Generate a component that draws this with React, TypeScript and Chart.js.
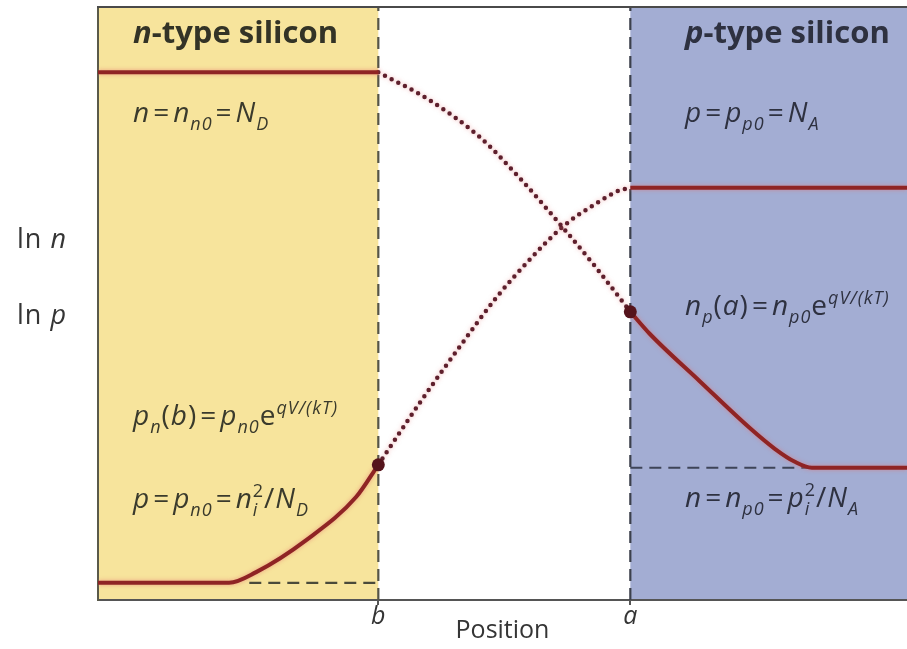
import React, { useEffect, useRef } from 'react';
import { Chart, registerables } from 'chart.js';

Chart.register(...registerables);

const FONT = '"Open Sans", "DejaVu Sans", sans-serif';

// Position axis runs 0–100; junction edges b and a
const tickPositions = [34.65, 65.8];
const tickLabels = ['b', 'a'];

// ln(concentration) axis range
const Y_MIN = 0;
const Y_MAX = 10;

// Electron concentration ln n
const electronNRegionX = [0, 34.65];
const electronNRegionY = [8.9, 8.9];
const electronDepletionX = [34.65, 40.97, 47.15, 52.1, 57.4, 61.6, 65.8];
const electronDepletionY = [8.9, 8.43, 7.81, 7.12, 6.29, 5.6, 4.86];
const electronPRegionX = [65.8, 68.19, 74.38, 80.57, 83.66, 86.14, 88.24, 100];
const electronPRegionY = [4.86, 4.49, 3.69, 2.9, 2.55, 2.33, 2.23, 2.23];

// Hole concentration ln p
const holeNRegionX = [0, 16.2, 19.55, 25.74, 31.93, 34.65];
const holeNRegionY = [0.29, 0.29, 0.47, 1.01, 1.74, 2.28];
const holeDepletionX = [34.65, 39.7, 44.7, 49.3, 53.3, 57.4, 61.6, 64.5, 65.8];
const holeDepletionY = [2.28, 3.31, 4.27, 5.11, 5.73, 6.29, 6.69, 6.91, 6.95];
const holePRegionX = [65.8, 100];
const holePRegionY = [6.95, 6.95];

// Minority-carrier equilibrium levels (dashed)
const holeFloorX = [18.7, 34.65];
const holeFloorY = [0.29, 0.29];
const electronFloorX = [65.8, 88.24];
const electronFloorY = [2.23, 2.23];

// Injected minority carriers at the junction edges
const edgeX = [34.65, 65.8];
const edgeY = [2.28, 4.86];

const zip = (xs: number[], ys: number[]) => xs.map((x, i) => ({ x, y: ys[i] }));

type Seg = { t: string; i?: boolean; b?: boolean; sub?: boolean; sup?: boolean; keep?: boolean; pad?: number };
type Label = { segs: Seg[]; x: number; y: number; size: number; color: string; spacing?: number };

const TEXT = '#353535';
const TEXT_Y = '#3a3a2c';
const TEXT_BLUE = '#2e3140';

const EQ: Seg = { t: '=', pad: 3 };

const labels: Label[] = [
  { segs: [{ t: 'n', i: true, b: true }, { t: '-type silicon', b: true }], x: 133, y: 43, size: 31, color: '#333326' },
  { segs: [{ t: 'p', i: true, b: true }, { t: '-type silicon', b: true }], x: 685, y: 43, size: 31, color: TEXT_BLUE },
  {
    segs: [{ t: 'n', i: true }, EQ, { t: 'n', i: true }, { t: 'n0', i: true, sub: true }, EQ, { t: 'N', i: true }, { t: 'D', i: true, sub: true }],
    x: 133, y: 122, size: 28, color: TEXT_Y, spacing: 1,
  },
  {
    segs: [{ t: 'p', i: true }, EQ, { t: 'p', i: true }, { t: 'p0', i: true, sub: true }, EQ, { t: 'N', i: true }, { t: 'A', i: true, sub: true }],
    x: 685, y: 122, size: 28, color: TEXT_BLUE, spacing: 1,
  },
  {
    segs: [{ t: 'p', i: true }, { t: 'n', i: true, sub: true }, { t: '(' }, { t: 'b', i: true }, { t: ')' }, EQ, { t: 'p', i: true }, { t: 'n0', i: true, sub: true }, { t: 'e' }, { t: 'qV/(kT)', i: true, sup: true }],
    x: 133, y: 425, size: 28, color: TEXT_Y, spacing: 1,
  },
  {
    segs: [{ t: 'p', i: true }, EQ, { t: 'p', i: true }, { t: 'n0', i: true, sub: true }, EQ, { t: 'n', i: true }, { t: 'i', i: true, sub: true, keep: true }, { t: '2', sup: true }, { t: '/' }, { t: 'N', i: true }, { t: 'D', i: true, sub: true }],
    x: 133, y: 508, size: 28, color: TEXT_Y, spacing: 1,
  },
  {
    segs: [{ t: 'n', i: true }, { t: 'p', i: true, sub: true }, { t: '(' }, { t: 'a', i: true }, { t: ')' }, EQ, { t: 'n', i: true }, { t: 'p0', i: true, sub: true }, { t: 'e' }, { t: 'qV/(kT)', i: true, sup: true }],
    x: 685, y: 315, size: 28, color: TEXT_BLUE, spacing: 1,
  },
  {
    segs: [{ t: 'n', i: true }, EQ, { t: 'n', i: true }, { t: 'p0', i: true, sub: true }, EQ, { t: 'p', i: true }, { t: 'i', i: true, sub: true, keep: true }, { t: '2', sup: true }, { t: '/' }, { t: 'N', i: true }, { t: 'A', i: true, sub: true }],
    x: 685, y: 507, size: 28, color: TEXT_BLUE, spacing: 1,
  },
  { segs: [{ t: 'ln ' }, { t: 'n', i: true }], x: 17, y: 248, size: 27, color: TEXT, spacing: 1 },
  { segs: [{ t: 'ln ' }, { t: 'p', i: true }], x: 17, y: 324, size: 27, color: TEXT, spacing: 1 },
];

function drawRich(ctx: CanvasRenderingContext2D, lab: Label) {
  const { segs, size } = lab;
  const small = Math.round(size * 0.66);
  let cx = lab.x;
  let kept = 0;
  ctx.fillStyle = lab.color;
  ctx.textBaseline = 'alphabetic';
  ctx.textAlign = 'left';
  (ctx as any).letterSpacing = `${lab.spacing || 0}px`;
  for (const s of segs) {
    const sz = s.sub || s.sup ? small : size;
    ctx.font = `${s.i ? 'italic ' : ''}${s.b ? 'bold ' : ''}${sz}px ${FONT}`;
    const dy = s.sub ? size * 0.3 : s.sup ? -size * 0.4 : 0;
    const pad = s.pad || 0;
    const w = ctx.measureText(s.t).width + 2 * pad;
    ctx.fillText(s.t, cx + pad, lab.y + dy);
    if (s.keep) {
      kept = w;
    } else {
      cx += Math.max(w, kept);
      kept = 0;
    }
  }
  (ctx as any).letterSpacing = '0px';
}

const regionPlugin = {
  id: 'regions',
  beforeDraw(chart: any) {
    const { ctx, chartArea } = chart;
    const x = chart.scales.x;
    const xb = x.getPixelForValue(tickPositions[0]);
    const xa = x.getPixelForValue(tickPositions[1]);
    ctx.save();
    ctx.fillStyle = '#f7e49c';
    ctx.fillRect(chartArea.left, chartArea.top, xb - chartArea.left, chartArea.bottom - chartArea.top);
    ctx.fillStyle = '#a3add3';
    ctx.fillRect(xa, chartArea.top, chartArea.right - xa, chartArea.bottom - chartArea.top);
    ctx.restore();
  },
  beforeDatasetDraw(chart: any, args: any) {
    const ds = chart.data.datasets[args.index];
    if (ds.glow) {
      const ctx = chart.ctx;
      ctx.save();
      ctx.shadowColor = ds.glow;
      ctx.shadowBlur = 4;
    }
  },
  afterDatasetDraw(chart: any, args: any) {
    const ds = chart.data.datasets[args.index];
    if (ds.glow) chart.ctx.restore();
  },
  afterDraw(chart: any) {
    const { ctx, chartArea } = chart;
    ctx.save();
    ctx.strokeStyle = '#4a4a4a';
    ctx.lineWidth = 2;
    ctx.beginPath();
    ctx.moveTo(chartArea.left - 1, chartArea.top);
    ctx.lineTo(chartArea.right, chartArea.top);
    ctx.stroke();
    for (const lab of labels) drawRich(ctx, lab);
    ctx.restore();
  },
};

const SOLID = '#8f2424';
const DOTTED = '#5e1f2c';
const GLOW = 'rgba(230,110,110,0.6)';

export default function App() {
  const ref = useRef<HTMLCanvasElement | null>(null);

  useEffect(() => {
    if (!ref.current) return;
    const solid = (xs: number[], ys: number[]) => ({
      data: zip(xs, ys),
      borderColor: SOLID,
      borderWidth: 4,
      pointRadius: 0,
      cubicInterpolationMode: 'monotone',
      glow: GLOW,
      order: 1,
    });
    const dotted = (xs: number[], ys: number[]) => ({
      data: zip(xs, ys),
      borderColor: DOTTED,
      borderWidth: 4.5,
      borderDash: [0, 7.5],
      borderCapStyle: 'round',
      pointRadius: 0,
      cubicInterpolationMode: 'monotone',
      glow: 'rgba(230,110,110,0.5)',
      order: 1,
    });
    const dashed = (xs: number[], ys: number[], color: string) => ({
      data: zip(xs, ys),
      borderColor: color,
      borderWidth: 2.2,
      borderDash: [12, 7],
      pointRadius: 0,
      order: 2,
    });

    const chart = new Chart(ref.current, {
      type: 'line',
      data: {
        datasets: [
          solid(electronNRegionX, electronNRegionY),
          dotted(electronDepletionX, electronDepletionY),
          solid(electronPRegionX, electronPRegionY),
          solid(holeNRegionX, holeNRegionY),
          dotted(holeDepletionX, holeDepletionY),
          solid(holePRegionX, holePRegionY),
          dashed(holeFloorX, holeFloorY, '#4a4a3a'),
          dashed(electronFloorX, electronFloorY, '#3e4458'),
          dashed([tickPositions[0], tickPositions[0]], [Y_MIN, Y_MAX], '#555548'),
          dashed([tickPositions[1], tickPositions[1]], [Y_MIN, Y_MAX], '#3c404c'),
          {
            data: zip(edgeX, edgeY),
            showLine: false,
            pointRadius: 6.5,
            pointBackgroundColor: '#55141c',
            pointBorderWidth: 0,
            order: 0,
          },
        ] as any,
      },
      options: {
        animation: false,
        responsive: false,
        events: [],
        layout: { autoPadding: false, padding: { left: 98, top: 7, right: 0, bottom: 0 } },
        plugins: { legend: { display: false }, tooltip: { enabled: false } },
        scales: {
          x: {
            type: 'linear',
            min: 0,
            max: 100,
            afterBuildTicks: (scale: any) => {
              scale.ticks = tickPositions.map((value) => ({ value }));
            },
            ticks: {
              autoSkip: false,
              maxRotation: 0,
              padding: -3,
              color: TEXT,
              font: { family: FONT, size: 25, style: 'italic' },
              callback: (_v: any, i: number) => tickLabels[i],
            },
            grid: { display: true, drawOnChartArea: false, tickLength: 5, color: '#555', lineWidth: 2 },
            border: { display: true, color: '#555', width: 2 },
            title: { display: true, text: 'Position', color: TEXT, font: { family: FONT, size: 25 }, padding: { top: -13, bottom: 3 } },
          },
          y: {
            type: 'linear',
            min: Y_MIN,
            max: Y_MAX,
            ticks: { display: false },
            grid: { display: false, drawTicks: false },
            border: { display: true, color: '#5a5a4a', width: 2 },
          },
        },
      } as any,
      plugins: [regionPlugin],
    });
    return () => chart.destroy();
  }, []);

  return (
    <div style={{ position: 'fixed', left: 0, top: 0, width: 907, height: 649, background: '#fff' }}>
      <canvas ref={ref} width={907} height={649} />
    </div>
  );
}
